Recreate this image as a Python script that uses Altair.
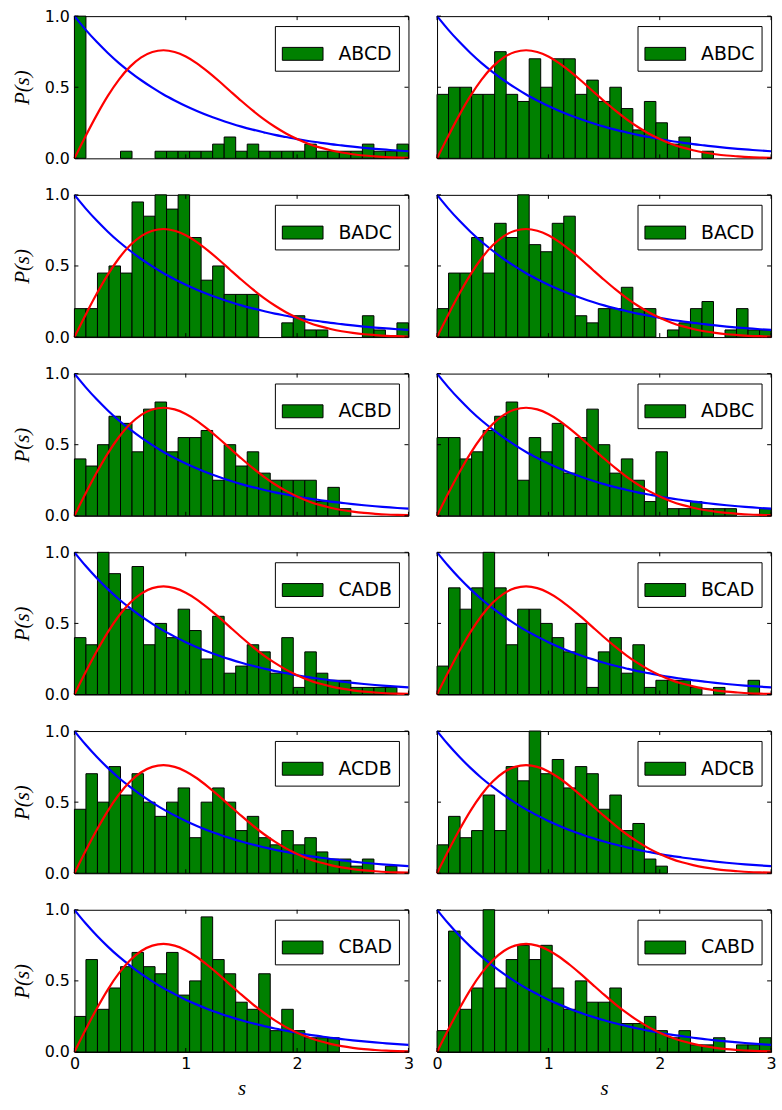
import altair as alt
import pandas as pd

# ---------------- data ----------------
NAMES = ["ABCD", "ABDC", "BADC", "BACD", "ACBD", "ADBC",
         "CADB", "BCAD", "ACDB", "ADCB", "CBAD", "CABD"]

ABCD = [1.0, 0, 0, 0, 0.05, 0, 0, 0.05, 0.05, 0.05, 0.05, 0.05, 0.1, 0.15, 0.05,
        0.1, 0.05, 0.05, 0.05, 0.05, 0.1, 0.05, 0.05, 0.05, 0.05, 0.1, 0.05, 0.05, 0.1]
ABDC = [0.45, 0.5, 0.5, 0.45, 0.45, 0.75, 0.45, 0.4, 0.7, 0.5, 0.7, 0.7, 0.45, 0.55, 0.4,
        0.5, 0.35, 0.2, 0.4, 0.25, 0.1, 0.15, 0, 0.05, 0, 0, 0, 0, 0]
BADC = [0.2, 0.2, 0.45, 0.5, 0.45, 0.95, 0.85, 1.0, 0.9, 1.0, 0.7, 0.4, 0.5, 0.3, 0.3,
        0.3, 0, 0, 0.1, 0.15, 0.05, 0.05, 0, 0, 0, 0.15, 0.05, 0, 0.1]
BACD = [0.2, 0.45, 0.45, 0.7, 0.45, 0.8, 0.7, 1.0, 0.65, 0.6, 0.8, 0.85, 0.15, 0.1, 0.2,
        0.2, 0.35, 0.2, 0.2, 0, 0.05, 0.1, 0.2, 0.25, 0, 0.05, 0.2, 0.05, 0.05]
ACBD = [0.4, 0.35, 0.5, 0.7, 0.65, 0.45, 0.75, 0.8, 0.45, 0.55, 0.55, 0.6, 0.25, 0.5, 0.35,
        0.45, 0.3, 0.25, 0.25, 0.25, 0.25, 0.1, 0.2, 0.05, 0, 0, 0, 0, 0]
ADBC = [0.55, 0.55, 0.4, 0.45, 0.6, 0.7, 0.8, 0.25, 0.55, 0.45, 0.65, 0.3, 0.55, 0.75, 0.5,
        0.3, 0.4, 0.25, 0.1, 0.45, 0.05, 0.05, 0.1, 0.05, 0.05, 0.05, 0, 0, 0.05]
CADB = [0.4, 0.35, 1.0, 0.85, 0.6, 0.9, 0.35, 0.5, 0.4, 0.6, 0.45, 0.25, 0.55, 0.15, 0.2,
        0.35, 0.3, 0.15, 0.4, 0.05, 0.3, 0.15, 0.1, 0.1, 0.05, 0.05, 0.05, 0.05, 0]
BCAD = [0.2, 0.75, 0.6, 0.75, 1.0, 0.75, 0.35, 0.6, 0.6, 0.5, 0.4, 0.3, 0.5, 0.05, 0.3,
        0.4, 0.15, 0.35, 0.05, 0.1, 0.1, 0.1, 0.05, 0, 0.05, 0, 0, 0.1, 0]
ACDB = [0.45, 0.7, 0.5, 0.75, 0.55, 0.7, 0.5, 0.4, 0.5, 0.6, 0.25, 0.5, 0.6, 0.5, 0.3,
        0.4, 0.25, 0.2, 0.3, 0.2, 0.25, 0.15, 0.1, 0.1, 0.05, 0.1, 0, 0.05, 0]
ADCB = [0.2, 0.4, 0.25, 0.3, 0.55, 0.3, 0.75, 0.65, 1.0, 0.7, 0.8, 0.6, 0.75, 0.7, 0.45,
        0.55, 0.3, 0.35, 0.1, 0.05, 0, 0, 0, 0, 0, 0, 0, 0, 0]
CBAD = [0.25, 0.65, 0.3, 0.45, 0.6, 0.7, 0.6, 0.55, 0.7, 0.4, 0.5, 0.95, 0.65, 0.55, 0.35,
        0.3, 0.55, 0.15, 0.3, 0.15, 0.1, 0.1, 0.1, 0, 0, 0, 0, 0, 0]
CABD = [0.15, 0.85, 0.3, 0.45, 1.0, 0.45, 0.65, 0.75, 0.65, 0.75, 0.45, 0.3, 0.5, 0.35, 0.35,
        0.45, 0.2, 0.2, 0.25, 0.15, 0.1, 0.15, 0.05, 0.05, 0.1, 0, 0.05, 0.05, 0.1]

HISTS = [ABCD, ABDC, BADC, BACD, ACBD, ADBC, CADB, BCAD, ACDB, ADCB, CBAD, CABD]

S_MAX = 3.0
N_BINS = 29

# reference curves (Poisson: blue, Wigner surmise: red)
S_GRID = [0.0, 0.1, 0.2, 0.3, 0.4, 0.5, 0.6, 0.7, 0.8, 0.9, 1.0, 1.1, 1.2, 1.3, 1.4, 1.5,
          1.6, 1.7, 1.8, 1.9, 2.0, 2.1, 2.2, 2.3, 2.4, 2.5, 2.6, 2.7, 2.8, 2.9, 3.0]
POISSON = [1.0, 0.905, 0.819, 0.741, 0.670, 0.607, 0.549, 0.497, 0.449, 0.407, 0.368,
           0.333, 0.301, 0.273, 0.247, 0.223, 0.202, 0.183, 0.165, 0.150, 0.135, 0.122,
           0.111, 0.100, 0.091, 0.082, 0.074, 0.067, 0.061, 0.055, 0.050]
WIGNER = [0.0, 0.156, 0.304, 0.439, 0.554, 0.645, 0.710, 0.748, 0.760, 0.748, 0.716,
          0.668, 0.608, 0.542, 0.472, 0.403, 0.337, 0.276, 0.222, 0.175, 0.136, 0.103,
          0.077, 0.057, 0.041, 0.029, 0.020, 0.014, 0.009, 0.006, 0.004]

X_TICKS = [0, 1, 2, 3]
Y_TICKS = [0.0, 0.5, 1.0]

# ---------------- style ----------------
W, H = 336.6, 143.3
GREEN = "#008000"
TICK_LEN = 4
SANS = "DejaVu Sans"
SERIF = "Liberation Serif"
LEGEND_SYMBOL = "M-1,-0.317 L1,-0.317 L1,0.317 L-1,0.317 Z"

edges = [S_MAX * k / N_BINS for k in range(N_BINS + 1)]
curves = pd.DataFrame({"s": S_GRID, "p": POISSON, "w": WIGNER})
xt = pd.DataFrame({"t": X_TICKS})
yt = pd.DataFrame({"t": Y_TICKS})


def panel(i, name, heights):
    left = i % 2 == 0
    bottom = i >= len(NAMES) - 2

    xs = alt.Scale(domain=[0, S_MAX], nice=False, zero=False)
    ys = alt.Scale(domain=[0, 1], nice=False)

    if bottom:
        xaxis = alt.Axis(values=X_TICKS, format="d", ticks=False, domain=False, grid=False,
                         labelFont=SANS, labelFontSize=16, labelColor="black",
                         labelPadding=4, labelFlush=False, labelOverlap=False,
                         title="s", titleFont=SERIF, titleFontStyle="italic",
                         titleFontWeight="normal", titleFontSize=21, titleColor="black",
                         titlePadding=6)
    else:
        xaxis = None
    if left:
        yaxis = alt.Axis(values=Y_TICKS, format=".1f", ticks=False, domain=False, grid=False,
                         labelFont=SANS, labelFontSize=16, labelColor="black",
                         labelPadding=5, labelFlush=False, labelOverlap=False,
                         title="P(s)", titleFont=SERIF, titleFontStyle="italic",
                         titleFontWeight="normal", titleFontSize=21, titleColor="black",
                         titlePadding=12)
    else:
        yaxis = None

    df = pd.DataFrame({"x0": edges[:-1], "x1": edges[1:], "h": heights,
                       "base": 0.0, "name": name})
    df = df[df["h"] > 0]

    bars = alt.Chart(df).mark_rect(stroke="black", strokeWidth=1, opacity=1).encode(
        x=alt.X("x0:Q", scale=xs, axis=xaxis),
        x2="x1:Q",
        y=alt.Y("h:Q", scale=ys, axis=yaxis),
        y2="base:Q",
        color=alt.Color("name:N", title=None,
                        scale=alt.Scale(domain=[name], range=[GREEN]),
                        legend=alt.Legend(orient="top-right", offset=10, padding=7,
                                          strokeColor="black", fillColor="white",
                                          cornerRadius=0, symbolType=LEGEND_SYMBOL,
                                          symbolSize=1681, symbolStrokeColor="black",
                                          symbolStrokeWidth=1, symbolOpacity=1,
                                          labelFont=SANS, labelFontSize=19,
                                          labelColor="black", labelOffset=15)),
    )
    blue = alt.Chart(curves).mark_line(color="#0000ff", strokeWidth=2.2,
                                       interpolate="monotone").encode(
        x=alt.X("s:Q", scale=xs, axis=xaxis), y=alt.Y("p:Q", scale=ys, axis=yaxis))
    red = alt.Chart(curves).mark_line(color="#ff0000", strokeWidth=2.2,
                                      interpolate="monotone").encode(
        x=alt.X("s:Q", scale=xs, axis=xaxis), y=alt.Y("w:Q", scale=ys, axis=yaxis))

    tx_top = alt.Chart(xt).mark_rule(color="black", strokeWidth=1).encode(
        x=alt.X("t:Q", scale=xs, axis=xaxis), y=alt.value(0), y2=alt.value(TICK_LEN))
    tx_bot = alt.Chart(xt).mark_rule(color="black", strokeWidth=1).encode(
        x=alt.X("t:Q", scale=xs, axis=xaxis), y=alt.value(H), y2=alt.value(H - TICK_LEN))
    ty_left = alt.Chart(yt).mark_rule(color="black", strokeWidth=1).encode(
        y=alt.Y("t:Q", scale=ys, axis=yaxis), x=alt.value(0), x2=alt.value(TICK_LEN))
    ty_right = alt.Chart(yt).mark_rule(color="black", strokeWidth=1).encode(
        y=alt.Y("t:Q", scale=ys, axis=yaxis), x=alt.value(W), x2=alt.value(W - TICK_LEN))

    return alt.layer(bars, blue, red, tx_top, tx_bot, ty_left, ty_right).properties(
        width=W, height=H)


panels = [panel(i, n, h) for i, (n, h) in enumerate(zip(NAMES, HISTS))]

chart = alt.concat(*panels, columns=2, spacing={"row": 36.1, "column": 28.4},
                   bounds="flush").resolve_scale(color="independent").properties(
    padding={"left": 11, "top": 3, "right": 5, "bottom": 5},
    background="white",
).configure_view(stroke="black", strokeWidth=1)

chart.save("out.html", embed_options={"renderer": "svg", "actions": False})
